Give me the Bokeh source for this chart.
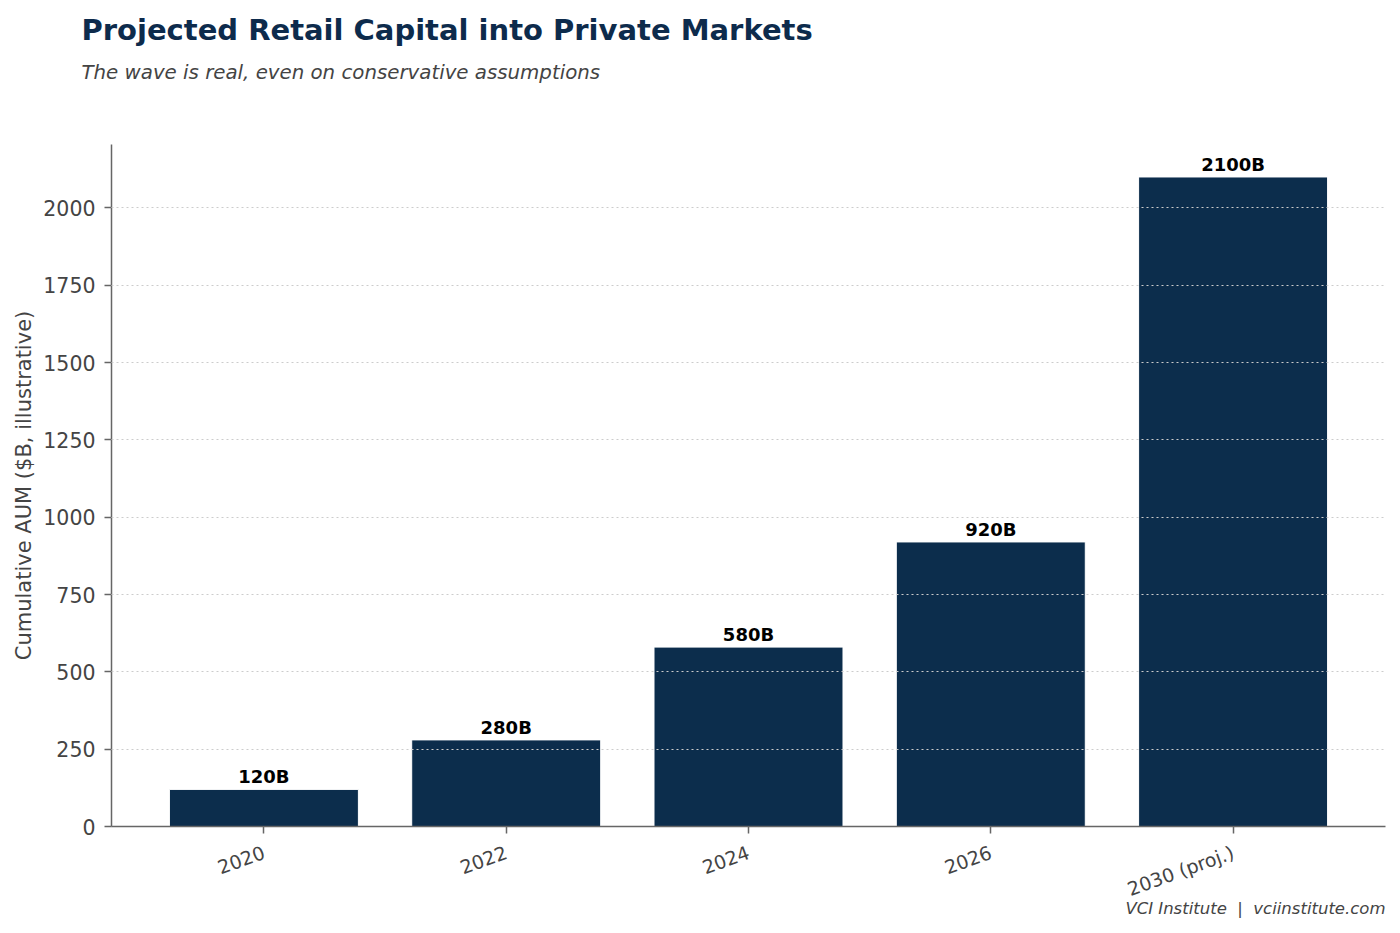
import math
from bokeh.plotting import figure
from bokeh.models import Title, FixedTicker, Range1d, ColumnDataSource
from bokeh.core.properties import value
from bokeh.embed import file_html
from bokeh.resources import INLINE

categories = ["2020", "2022", "2024", "2026", "2030 (proj.)"]
aum_values = [120, 280, 580, 920, 2100]
bar_labels = ["120B", "280B", "580B", "920B", "2100B"]
y_ticks = [0, 250, 500, 750, 1000, 1250, 1500, 1750, 2000]

FONT = "DejaVu Sans"
NAVY = "#0c2d4c"
GRAY = "#444444"
SPINE = "#666666"

idx = list(range(len(categories)))
src = ColumnDataSource(dict(x=idx, top=aum_values, label=bar_labels))

bar_w = 0.78
pad = (len(categories) - 1 + bar_w) * 0.05
p = figure(width=1392, height=925, output_backend="svg", toolbar_location=None,
           x_range=Range1d(-bar_w / 2 - pad, len(categories) - 1 + bar_w / 2 + pad),
           y_range=Range1d(0, max(aum_values) * 1.05),
           min_border_left=111, min_border_right=7, min_border_top=144, min_border_bottom=99)
p.title = None
p.outline_line_color = None
p.background_fill_color = "white"
p.border_fill_color = "white"

p.vbar(x="x", top="top", width=bar_w, source=src, fill_color=NAVY,
       line_color="white", line_width=1)
p.text(x="x", y="top", text="label", source=src, text_align="center",
       text_baseline="bottom", y_offset=-2, text_font=value(FONT),
       text_font_size="18px", text_font_style="bold", text_color="black")

# axes
p.xaxis.ticker = FixedTicker(ticks=idx)
p.xaxis.major_label_overrides = {i: c for i, c in enumerate(categories)}
p.xaxis.major_label_orientation = math.radians(20)
p.yaxis.ticker = FixedTicker(ticks=y_ticks)
p.yaxis.axis_label = "Cumulative AUM ($B, illustrative)"
for ax in (p.xaxis, p.yaxis):
    ax.axis_line_color = SPINE
    ax.axis_line_width = 1.5
    ax.major_tick_line_color = SPINE
    ax.major_tick_line_width = 1.5
    ax.major_tick_out = 7
    ax.major_tick_in = 0
    ax.minor_tick_line_color = None
    ax.major_label_text_font = FONT
    ax.major_label_text_color = GRAY
p.yaxis.major_label_standoff = 9
p.xaxis.major_label_standoff = 18
p.yaxis.major_label_text_font_size = "20.5px"
p.xaxis.major_label_text_font_size = "19px"
p.yaxis.axis_label_text_font = FONT
p.yaxis.axis_label_text_font_size = "21px"
p.yaxis.axis_label_text_font_style = "normal"
p.yaxis.axis_label_text_color = GRAY
p.yaxis.axis_label_standoff = 4

p.xgrid.grid_line_color = None
p.ygrid.grid_line_color = "#cccccc"
p.ygrid.grid_line_alpha = 1.0
p.ygrid.grid_line_dash = "2 3"
p.ygrid.grid_line_width = 1
p.ygrid.level = "overlay"

spacer = Title(text=" ", standoff=56, text_font=FONT, text_font_size="1px")
sub = Title(text="The wave is real, even on conservative assumptions", align="left",
            offset=-30, standoff=4, text_font=FONT, text_font_size="19.8px",
            text_font_style="italic", text_color=GRAY)
main = Title(text="Projected Retail Capital into Private Markets", align="left",
             offset=-30, standoff=19, text_font=FONT, text_font_size="29px",
             text_font_style="bold", text_color="#0d2b4c")
p.add_layout(spacer, "above")
p.add_layout(sub, "above")
p.add_layout(main, "above")

foot = Title(text="VCI Institute \u00a0|\u00a0 vciinstitute.com", align="right", offset=0,
             vertical_align="top", standoff=-30, text_font=FONT, text_font_size="16.5px",
             text_font_style="italic", text_color=GRAY)
p.add_layout(foot, "below")

open("out.html", "w").write(file_html(p, INLINE))
